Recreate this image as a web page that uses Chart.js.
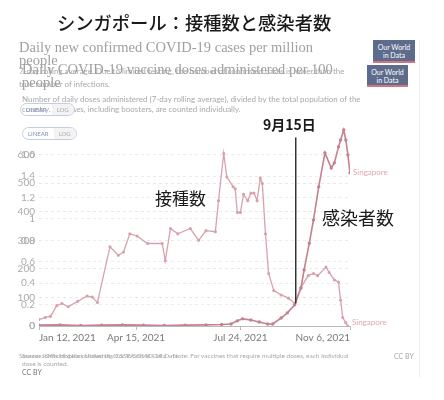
<!DOCTYPE html>
<html>
<head>
<meta charset="utf-8">
<script src="https://cdn.jsdelivr.net/npm/chart.js@4"></script>
<style>
body { margin:0; background:#fff; }
#wrap { position:relative; width:444px; height:400px; overflow:hidden; }
#wrap canvas { position:absolute; left:0; top:0; }
.t { position:absolute; white-space:nowrap; pointer-events:none; }
.serif { font-family:"Liberation Serif", serif; color:#a0a0a0; font-size:14.5px; line-height:13px; }
.sub { font-family:Lato, sans-serif; color:#a8a8a8; font-size:8px; }
.jp { font-family:"Noto Sans CJK JP", sans-serif; color:#1a1a1a; }
.logo { position:absolute; background:#5d6c8c; color:#fff; font-family:Lato, sans-serif; font-size:7px; line-height:8px; text-align:center; border-bottom:2px solid #d27480; box-sizing:border-box; padding-top:3px; }
.btn { position:absolute; font-family:Lato, sans-serif; font-size:6px; border:1px solid #c3cde2; border-radius:7px; overflow:hidden; display:flex; height:11px; line-height:11px; }
.btn span { padding:0 5px; }
</style>
</head>
<body>
<div id="wrap">
<canvas id="grafica"></canvas>

<div class="t jp" style="left:57px;top:9px;font-size:18.3px;font-weight:500;">シンガポール：接種数と感染者数</div>

<div class="t serif" style="left:19px;top:41px;">Daily new confirmed COVID-19 cases per million<br>people</div>
<div class="t sub" style="left:19px;top:66px;">7-day rolling average. Due to limited testing, the number of confirmed cases is lower than the</div>
<div class="t sub" style="left:19px;top:79px;">true number of infections.</div>
<div class="t serif" style="left:22px;top:63px;">Daily COVID-19 vaccine doses administered per 100<br>people</div>
<div class="t sub" style="left:22px;top:94px;">Number of daily doses administered (7-day rolling average), divided by the total population of the</div>
<div class="t sub" style="left:22px;top:104px;">country. All doses, including boosters, are counted individually.</div>

<div class="logo" style="left:373px;top:40px;width:42px;height:23px;">Our World<br>in Data</div>
<div class="logo" style="left:367px;top:65px;width:41px;height:22px;">Our World<br>in Data</div>

<div class="btn" style="left:20px;top:103px;"><span style="color:#7f93bb;">LINEAR</span><span style="color:#aaa;background:#f3f3f3;">LOG</span></div>
<div class="btn" style="left:22px;top:127px;"><span style="color:#7f93bb;">LINEAR</span><span style="color:#aaa;background:#f3f3f3;">LOG</span></div>

<div class="t jp" style="left:263px;top:114px;font-size:14px;font-weight:700;">9月15日</div>
<div class="t jp" style="left:155px;top:185px;font-size:17px;">接種数</div>
<div class="t jp" style="left:322px;top:204px;font-size:18px;">感染者数</div>

<div class="t sub" style="left:19px;top:352px;font-size:6.5px;">Source: Johns Hopkins University CSSE COVID-19 Data</div>
<div class="t sub" style="left:22px;top:352px;font-size:6.5px;">Source: Official data collated by Our World in Data – Note: For vaccines that require multiple doses, each individual</div>
<div class="t sub" style="left:22px;top:360px;font-size:6.5px;">dose is counted.</div>
<div class="t sub" style="left:22px;top:368px;font-size:7px;color:#777;">CC BY</div>
<div class="t sub" style="left:394px;top:352px;font-size:7px;">CC BY</div>
<div style="position:absolute;left:419px;top:40px;width:1px;height:338px;background:#eee;"></div>
</div>

<script>
// dias desde el 12 ene 2021
var tickDays   = [0, 93, 193, 298];
var tickLabels = ['Jan 12, 2021', 'Apr 15, 2021', 'Jul 24, 2021', 'Nov 6, 2021'];
var caseTicks  = [0, 100, 200, 300, 400, 500, 600];
var doseTicks  = [0, 0.2, 0.4, 0.6, 0.8, 1, 1.2, 1.4, 1.6];

// dosis diarias por 100 personas
var doseDays   = [0, 6, 11, 17, 22, 28, 37, 46, 51, 56, 68, 76, 81, 87, 94, 104, 118, 121, 126, 133, 145, 153, 160, 169, 172, 177, 180, 186, 188, 190, 193, 196, 200, 203, 206, 209, 212, 214, 217, 220, 225, 232, 239, 245, 251, 258, 263, 267, 275, 278, 283, 287, 289, 291, 294, 296];
var doseValues = [0.06, 0.08, 0.09, 0.19, 0.21, 0.18, 0.23, 0.28, 0.27, 0.22, 0.74, 0.66, 0.69, 0.86, 0.84, 0.77, 0.77, 0.61, 0.91, 0.86, 0.91, 0.80, 0.89, 0.88, 1.17, 1.61, 1.39, 1.30, 1.28, 1.06, 1.06, 1.23, 1.17, 1.24, 1.24, 1.17, 1.38, 1.33, 0.86, 0.49, 0.33, 0.29, 0.26, 0.21, 0.36, 0.47, 0.49, 0.47, 0.55, 0.50, 0.43, 0.41, 0.24, 0.08, 0.03, 0];

// casos nuevos por millon
var caseDays   = [0, 20, 40, 60, 80, 100, 120, 140, 160, 175, 184, 190, 195, 203, 211, 219, 224, 232, 238, 245, 251, 254, 259, 263, 268, 274, 280, 283, 287, 289, 292, 294, 296, 298];
var caseValues = [3, 4, 2, 3, 4, 3, 2, 3, 4, 5, 7, 18, 25, 21, 14, 7, 7, 28, 46, 74, 133, 196, 290, 371, 487, 606, 553, 571, 627, 651, 686, 651, 599, 536];

var markDay  = 246;   // 15 sep
var markDose = 0.21;
var ejeAncho = 39;

// los dos ejes y comparten el mismo lugar a la izquierda
var ejesJuntos = {
    id: 'ejesJuntos',
    afterLayout: function(chart){
        var izq = chart.chartArea.left;
        ['y', 'y2'].forEach(function(id){
            var s = chart.scales[id];
            s.left = izq - ejeAncho;
            s.right = izq;
        });
    }
};

var marcas = {
    id: 'marcas',
    afterDatasetsDraw: function(chart){
        var ctx = chart.ctx;
        var x = chart.scales.x, y = chart.scales.y, y2 = chart.scales.y2;
        var px = x.getPixelForValue(markDay);
        ctx.save();
        ctx.strokeStyle = '#333';
        ctx.lineWidth = 1.5;
        ctx.beginPath();
        ctx.moveTo(px, y.getPixelForValue(660));
        ctx.lineTo(px, y2.getPixelForValue(markDose));
        ctx.stroke();

        ctx.fillStyle = '#e2a6b0';
        ctx.font = '8px Lato';
        ctx.textBaseline = 'middle';
        var lc = caseDays.length - 1;
        ctx.fillText('Singapore', x.getPixelForValue(caseDays[lc]) + 3, y.getPixelForValue(caseValues[lc]));
        var ld = doseDays.length - 1;
        ctx.fillText('Singapore', x.getPixelForValue(doseDays[ld]) + 4, y2.getPixelForValue(doseValues[ld]) - 4);
        ctx.restore();
    }
};

function puntos(dias, valores){
    return dias.map(function(d, i){ return {x: d, y: valores[i]}; });
}

var tickFont = {family: 'Lato', size: 10};

var grafica = new Chart(document.getElementById('grafica'), {
    type: 'line',
    data: {
        datasets: [{
            label: 'Daily new confirmed COVID-19 cases per million people',
            data: puntos(caseDays, caseValues),
            yAxisID: 'y',
            borderColor: '#c4828e',
            backgroundColor: '#bf7d8a',
            borderWidth: 1.6,
            pointRadius: 0.9,
            tension: 0
        }, {
            label: 'Daily COVID-19 vaccine doses administered per 100 people',
            data: puntos(doseDays, doseValues),
            yAxisID: 'y2',
            borderColor: '#d8a2ac',
            backgroundColor: '#d09aa5',
            borderWidth: 1.3,
            pointRadius: 0.9,
            tension: 0
        }]
    },
    options: {
        responsive: true,
        maintainAspectRatio: false,
        animation: false,
        layout: {padding: {left: -ejeAncho, top: 126, right: 94, bottom: 50}},
        plugins: {
            legend: {display: false},
            title: {display: false},
            tooltip: {enabled: false}
        },
        scales: {
            x: {
                type: 'linear',
                min: 0,
                max: 298,
                afterBuildTicks: function(s){ s.ticks = tickDays.map(function(v){ return {value: v}; }); },
                afterFit: function(s){ s.height = 24; },
                ticks: {
                    autoSkip: false,
                    maxRotation: 0,
                    align: 'inner',
                    padding: 2,
                    color: '#7a7a7a',
                    font: tickFont,
                    callback: function(v){ return tickLabels[tickDays.indexOf(v)]; }
                },
                grid: {drawOnChartArea: false, tickLength: 4, color: '#bbb'},
                border: {color: '#bbb'}
            },
            y: {
                position: 'left',
                min: 0,
                max: 700,
                afterBuildTicks: function(s){ s.ticks = caseTicks.map(function(v){ return {value: v}; }); },
                afterFit: function(s){ s.width = ejeAncho; },
                ticks: {padding: 4, color: '#ababab', font: tickFont},
                grid: {color: '#e8e8e8', drawTicks: false},
                border: {display: false, dash: [3, 3]}
            },
            y2: {
                position: 'left',
                min: 0,
                max: 700 / 375,
                afterBuildTicks: function(s){ s.ticks = doseTicks.map(function(v){ return {value: v}; }); },
                afterFit: function(s){ s.width = ejeAncho; },
                ticks: {padding: 4, color: '#ababab', font: tickFont,
                    callback: function(v){ return String(v); }},
                grid: {color: '#ececec', drawTicks: false},
                border: {display: false, dash: [3, 3]}
            }
        }
    },
    plugins: [ejesJuntos, marcas]
});
</script>
</body>
</html>
